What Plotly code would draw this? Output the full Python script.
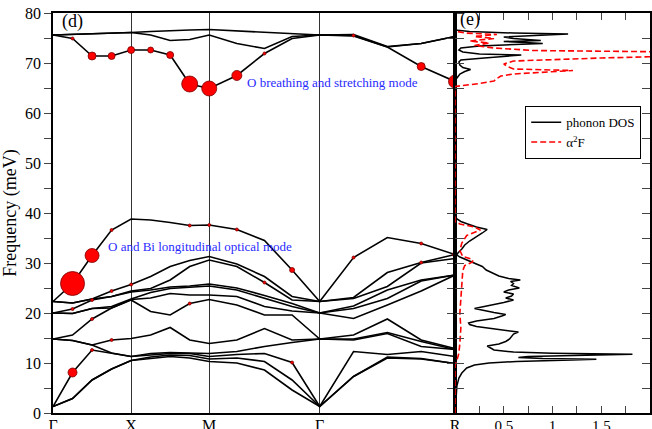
import numpy as np
import plotly.graph_objects as go

# ---------------- data ----------------
hs_labels = ["Γ", "X", "M", "Γ", "R"]
# phonon frequencies (meV), 15 branches at the 17 k-points of the path Γ-X-M-Γ-R
freqs_by_k = [
    [1.3, 1.3, 1.3, 14.8, 14.8, 14.8, 20.0, 20.0, 20.0, 22.3, 22.3, 22.3, 75.6, 75.6, 75.6],  # Γ
    [2.9, 2.9, 8.1, 14.5, 14.5, 15.6, 19.9, 19.9, 20.8, 22.0, 22.0, 25.9, 74.9, 75.7, 75.7],
    [6.6, 6.6, 12.6, 13.6, 13.6, 18.8, 20.9, 20.9, 22.6, 22.8, 22.8, 31.5, 71.4, 75.8, 75.8],
    [8.8, 8.8, 12.0, 12.0, 14.6, 21.0, 21.0, 21.3, 23.3, 23.3, 24.4, 36.6, 71.4, 76.0, 76.0],
    [10.5, 10.5, 11.3, 11.3, 14.9, 22.6, 22.7, 22.8, 24.2, 24.4, 25.7, 38.8, 72.6, 76.1, 76.1],  # X
    [10.9, 11.2, 11.6, 11.9, 15.6, 20.3, 23.0, 24.1, 24.6, 24.9, 27.3, 38.6, 72.6, 75.6, 76.3],
    [11.3, 11.6, 11.9, 12.1, 17.1, 19.6, 23.9, 24.9, 25.2, 26.6, 29.3, 38.1, 71.6, 74.5, 76.5],
    [11.0, 11.5, 11.9, 12.0, 14.6, 21.9, 23.6, 25.2, 25.4, 29.3, 30.5, 37.5, 65.8, 74.7, 76.6],
    [10.3, 10.8, 11.3, 11.9, 13.9, 22.7, 23.6, 25.4, 25.8, 30.6, 31.3, 37.6, 64.9, 75.6, 76.7],  # M
    [10.0, 11.0, 11.7, 12.3, 14.6, 21.6, 23.3, 24.6, 25.0, 29.3, 29.8, 36.7, 67.5, 73.9, 76.4],
    [8.6, 10.3, 11.9, 13.3, 16.9, 19.6, 21.3, 22.9, 23.5, 26.1, 27.3, 34.5, 71.9, 72.9, 76.1],
    [4.6, 6.6, 10.1, 14.1, 14.6, 19.6, 20.4, 21.3, 21.9, 22.6, 23.3, 28.6, 74.9, 75.3, 75.8],
    [1.3, 1.3, 1.3, 14.8, 14.8, 14.8, 20.0, 20.0, 20.0, 22.3, 22.3, 22.3, 75.6, 75.6, 75.6],  # Γ
    [7.3, 7.3, 12.3, 14.6, 14.8, 15.6, 18.9, 20.9, 21.4, 22.9, 23.1, 31.1, 75.4, 75.5, 75.7],
    [11.0, 11.2, 11.7, 15.9, 16.1, 18.8, 21.6, 22.9, 24.6, 25.3, 28.1, 35.1, 73.2, 73.2, 73.3],
    [10.8, 10.9, 12.3, 13.3, 14.3, 14.6, 24.4, 26.4, 26.6, 30.0, 30.1, 33.9, 69.3, 73.9, 73.9],
    [9.9, 9.9, 11.3, 12.7, 12.7, 12.9, 27.6, 27.6, 27.6, 30.9, 31.7, 31.7, 66.3, 75.3, 75.3],  # R
]

# electron-phonon coupling markers: k-point index, frequency, marker diameter
dot_k = [1, 2, 3, 4, 5, 6, 7, 8, 9, 10, 13, 15, 16,
         1, 2, 1, 3, 2, 3, 4, 1, 2, 3, 2, 7, 8, 9, 11, 7, 10, 11, 13, 15, 15, 16]
dot_f = [74.9, 71.4, 71.4, 72.6, 72.6, 71.6, 65.8, 64.9, 67.5, 71.9, 75.5, 69.3, 66.3,
         25.9, 31.5, 8.1, 36.6, 22.6, 24.4, 25.7, 20.8, 18.8, 14.6, 12.6, 37.5, 37.6, 36.7,
         28.6, 21.9, 26.1, 10.1, 31.1, 33.9, 30.1, 31.7]
dot_d = [3, 8, 7, 7, 6, 7, 16, 15, 10, 3, 3, 8, 13,
         24, 14, 9, 3, 3, 3, 3, 3, 3, 3, 3, 3, 3, 3,
         5, 3, 3, 3, 3, 3, 3, 5]

# phonon DOS (frequency meV, states)
dos_f = [0.0, 2.0, 4.0, 5.5, 7.0, 8.0, 9.0, 9.6, 10.0, 10.3, 10.6, 10.75, 10.9, 11.1, 11.3,
         11.55, 11.75, 11.95, 12.2, 12.6, 13.0, 13.4, 13.8, 14.3, 14.8, 15.4, 15.8, 16.2,
         16.6, 16.9, 17.3, 17.7, 18.0, 18.4, 18.9, 19.4, 19.7, 20.1, 20.5, 20.9, 21.3, 21.7,
         22.1, 22.6, 23.0, 23.4, 23.8, 24.2, 24.6, 25.0, 25.5, 25.9, 26.3, 26.6, 26.9, 27.4,
         28.0, 28.6, 29.3, 29.8, 30.3, 30.8, 31.2, 31.6, 32.0, 32.8, 33.6, 34.4, 35.2, 36.0,
         36.7, 37.2, 37.8, 38.3, 38.8, 39.5, 65.5, 66.3, 67.0, 67.8, 68.3, 68.7, 69.1, 69.6,
         70.2, 70.6, 71.0, 71.4, 71.6, 71.8, 72.2, 72.6, 73.0, 73.4, 73.7, 73.9, 74.1, 74.3,
         74.5, 74.7, 74.9, 75.2, 75.5, 75.8, 76.0, 76.3, 76.6]
dos_v = [0.0, 0.005, 0.01, 0.02, 0.04, 0.07, 0.12, 0.2, 0.35, 0.63, 1.2, 1.45, 0.9, 0.65, 0.75,
         1.5, 1.82, 1.0, 0.6, 0.4, 0.36, 0.33, 0.45, 0.52, 0.56, 0.58, 0.6, 0.65,
         0.5, 0.4, 0.22, 0.15, 0.14, 0.22, 0.4, 0.48, 0.52, 0.4, 0.3, 0.2, 0.3, 0.42,
         0.5, 0.6, 0.52, 0.58, 0.6, 0.5, 0.55, 0.66, 0.58, 0.6, 0.57, 0.67, 0.55, 0.45,
         0.38, 0.32, 0.28, 0.22, 0.15, 0.1, 0.05, 0.02, 0.03, 0.07, 0.1, 0.15, 0.22, 0.28,
         0.33, 0.22, 0.13, 0.06, 0.02, 0.0, 0.0, 0.0, 0.02, 0.05, 0.1, 0.16, 0.08, 0.05,
         0.04, 0.06, 0.3, 0.6, 0.68, 0.25, 0.08, 0.04, 0.06, 0.25, 0.6, 0.9, 0.72, 0.5,
         0.88, 0.7, 0.6, 0.5, 0.9, 1.16, 0.6, 0.15, 0.0]

# Eliashberg function alpha^2 F
a2f_f = [0.0, 9.5, 10.5, 12.0, 14.0, 17.0, 20.0, 23.0, 26.0, 28.5, 29.5, 30.2, 30.7, 31.3,
         32.5, 34.0, 35.5, 36.6, 37.2, 37.8, 38.3, 65.3, 65.9, 66.4, 66.9, 67.4, 67.8, 68.2,
         68.5, 68.8, 69.2, 69.8, 70.4, 71.0, 71.4, 72.2, 72.5, 73.0, 73.5, 74.0, 74.4, 74.9,
         75.3, 75.7, 76.0, 76.4]
a2f_v = [0.0, 0.0, 0.02, 0.04, 0.05, 0.06, 0.05, 0.06, 0.07, 0.08, 0.1, 0.18, 0.18, 0.08,
         0.05, 0.07, 0.12, 0.26, 0.2, 0.05, 0.0, 0.0, 0.25, 0.4, 0.43, 0.47, 0.6, 0.9,
         1.21, 0.6, 0.55, 0.5, 0.6, 1.5, 2.3, 2.3, 0.8, 0.4, 0.2, 0.35, 0.15, 0.4,
         0.2, 0.43, 0.1, 0.0]

# ---------------- geometry of the k-path ----------------
seg_len = [0.5, 0.5, np.sqrt(0.5), np.sqrt(0.75)]   # Γ-X, X-M, M-Γ, Γ-R (2π/a units)
hs_pos = np.concatenate([[0.0], np.cumsum(seg_len)])
kx = []
for i in range(4):
    kx.extend(np.linspace(hs_pos[i], hs_pos[i + 1], 5)[:-1])
kx.append(hs_pos[-1])
kx = np.array(kx)

bands = np.array(freqs_by_k).T
FONT = "Liberation Serif"

fig = go.Figure()
for b in bands:
    fig.add_trace(go.Scatter(x=kx, y=b, mode="lines", line=dict(color="black", width=1.6),
                             showlegend=False, hoverinfo="skip", xaxis="x", yaxis="y"))
fig.add_trace(go.Scatter(x=kx[dot_k], y=dot_f, mode="markers",
                         marker=dict(color="#ff0000", size=dot_d, opacity=1,
                                     line=dict(color="#7a0000", width=0.8)),
                         showlegend=False, xaxis="x", yaxis="y"))
fig.add_trace(go.Scatter(x=dos_v, y=dos_f, mode="lines", name="phonon DOS",
                         line=dict(color="black", width=1.5), xaxis="x2", yaxis="y2"))
fig.add_trace(go.Scatter(x=a2f_v, y=a2f_f, mode="lines", name="α<sup>2</sup>F",
                         line=dict(color="red", width=1.6, dash="6px,3px"), xaxis="x2", yaxis="y2"))
# dummy trace for the tick-only overlay axis
fig.add_trace(go.Scatter(x=[None], y=[None], showlegend=False, xaxis="x", yaxis="y3"))

split = 402 / 597
ytv = list(range(0, 81, 5))
ytt = [str(v) if v % 10 == 0 else " " for v in ytv]
x2tv = [0.25, 0.5, 0.75, 1.0, 1.25, 1.5, 1.75, 2.0]
x2tt = [" ", "0.5", " ", "1", " ", "1.5", " ", "2"]

axis_common = dict(showline=True, linecolor="black", linewidth=1.5, zeroline=False,
                   showgrid=False, automargin=False)

fig.update_layout(
    width=652, height=429,
    margin=dict(l=53, r=2, t=13, b=16, autoexpand=False),
    paper_bgcolor="white", plot_bgcolor="white",
    font=dict(family=FONT, color="black", size=15),
    xaxis=dict(domain=[0, split], range=[0, hs_pos[-1]], tickmode="array",
               tickvals=list(hs_pos), ticktext=hs_labels, ticks="", mirror=True,
               showgrid=True, gridcolor="#333333", gridwidth=1, tickfont=dict(size=16),
               ticklabelstandoff=-3,
               showline=True, linecolor="black", linewidth=1.5, zeroline=False, automargin=False),
    yaxis=dict(range=[0, 80], tickmode="array", tickvals=ytv, ticktext=ytt,
               ticks="outside", ticklen=7, tickwidth=1.2, mirror="ticks",
               title=dict(text="Frequency (meV)", font=dict(size=18), standoff=6),
               tickfont=dict(size=16), **axis_common),
    yaxis3=dict(range=[0, 80], overlaying="y", side="right", anchor="x",
                tickmode="array", tickvals=ytv, ticks="inside", ticklen=8, tickwidth=1.2,
                showticklabels=False, showline=False, zeroline=False, showgrid=False,
                automargin=False),
    xaxis2=dict(domain=[split, 1], range=[0, 2], anchor="y2", tickmode="array",
                tickvals=x2tv, ticktext=x2tt, ticks="inside", ticklen=7, tickwidth=1.2,
                mirror="ticks", tickfont=dict(size=15), ticklabelstandoff=-2, **axis_common),
    yaxis2=dict(range=[0, 80], anchor="x2", side="right", tickmode="array", tickvals=ytv,
                ticks="inside", ticklen=8, tickwidth=1.2, mirror="ticks",
                showticklabels=False, **axis_common),
    legend=dict(x=(525 - 53) / 597, y=(413 - 106) / 400, xanchor="left", yanchor="top",
                bordercolor="black", borderwidth=1.2, bgcolor="white", itemwidth=30,
                font=dict(size=13, family=FONT), tracegroupgap=0),
    showlegend=True,
)

annots = [
    dict(text="(d)", xref="paper", yref="paper", x=(60 - 53) / 597, y=(413 - 22) / 400,
         xanchor="left", yanchor="middle", font=dict(size=18)),
    dict(text="(e)", xref="paper", yref="paper", x=(458 - 53) / 597, y=(413 - 20) / 400,
         xanchor="left", yanchor="middle", font=dict(size=18)),
    dict(text="O breathing and stretching mode", xref="x", yref="y",
         x=(245 - 53) / 402 * hs_pos[-1], y=66.2, xanchor="left", yanchor="middle",
         font=dict(size=13, color="#2a2aff")),
    dict(text="O and Bi longitudinal optical mode", xref="x", yref="y",
         x=(106 - 53) / 402 * hs_pos[-1], y=33.4, xanchor="left", yanchor="middle",
         font=dict(size=13, color="#2a2aff")),
]
for a in annots:
    a["showarrow"] = False
fig.update_layout(annotations=annots)

fig.write_html("out.html")
